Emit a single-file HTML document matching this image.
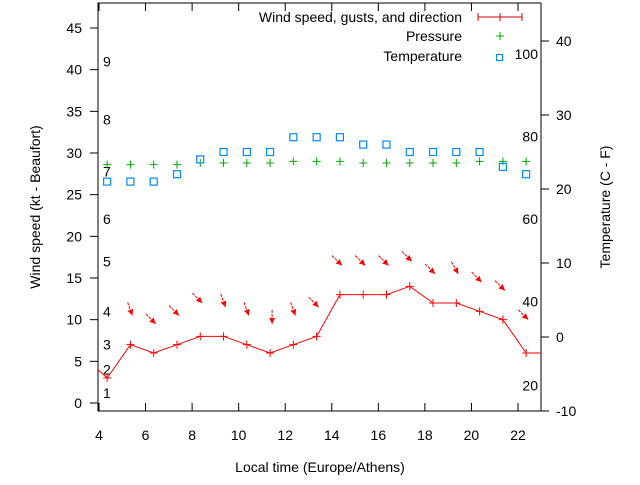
<!DOCTYPE html>
<html><head><meta charset="utf-8"><style>
body{margin:0;background:#fff;}
svg{font-family:"Liberation Sans",sans-serif;font-size:14px;}
</style></head><body>
<svg id="c" width="640" height="480" xmlns="http://www.w3.org/2000/svg"></svg>
<script>
const hours=[4.35,5.35,6.35,7.35,8.35,9.35,10.35,11.35,12.35,13.35,14.35,15.35,16.35,17.35,18.35,19.35,20.35,21.35,22.35];
const wind=[3,7,6,7,8,8,7,6,7,8,13,13,13,14,12,12,11,10,6];
const gusts=[null,10.5,9.5,10.5,12,11.5,10.5,9.5,10.5,11.5,16.5,16.5,16.5,17,15.5,15.5,14.5,13.5,10];
const dirs=[null,340,315,315,315,340,340,0,340,315,315,315,315,315,315,330,315,315,315];
const pressure=[28.6,28.6,28.6,28.6,28.8,28.8,28.8,28.8,29,29,29,28.8,28.8,28.8,28.8,28.8,29,29,29];
const temps=[21,21,21,22,24,25,25,25,27,27,27,26,26,25,25,25,25,23,22];
const xTicks=[4,6,8,10,12,14,16,18,20,22];
const yTicks=[0,5,10,15,20,25,30,35,40,45];
const y2Ticks=[-10,0,10,20,30,40];
const beaufort=[["1",1.2],["2",4],["3",7],["4",11],["5",17],["6",22.1],["7",27.8],["8",34],["9",41]];
const fahr=[["20",2.1],["40",12.2],["60",22.1],["80",32],["100",41.9]];
const L=98,R=541,T=3,B=411;
const X=v=>99+(v-4)*(419/18);
const Y=v=>403-v*8.333;
const Y2=v=>337-v*7.4;
const s=document.getElementById('c');
const NS="http://www.w3.org/2000/svg";
function mk(t,a,p){const e=document.createElementNS(NS,t);for(const k in a)e.setAttribute(k,a[k]);(p||s).appendChild(e);return e;}
function txt(x,y,str,anchor){const e=mk('text',{x:x,y:y,'text-anchor':anchor||'start',fill:'#000'});e.textContent=str;return e;}
const fr=mk('rect',{x:L,y:T,width:R-L,height:B-T,fill:'none',stroke:'#000','stroke-width':1});

xTicks.forEach(v=>{mk('line',{x1:X(v),y1:B,x2:X(v),y2:B-8,stroke:'#000'});mk('line',{x1:X(v),y1:T,x2:X(v),y2:T+8,stroke:'#000'});
 const t=txt(X(v),440,String(v),'middle');});
yTicks.forEach(v=>{mk('line',{x1:L-8,y1:Y(v),x2:L,y2:Y(v),stroke:'#000'});
 const t=txt(82,Y(v)+5,String(v),'end');});
y2Ticks.forEach(v=>{mk('line',{x1:R,y1:Y2(v),x2:R+8,y2:Y2(v),stroke:'#000'});
 const t=txt(556,Y2(v)+5,String(v),'start');});
beaufort.forEach(b=>{const t=txt(103,Y(b[1])+5,b[0]);});
fahr.forEach(b=>{const t=txt(538,Y(b[1])+5,b[0],'end');});
let t=txt(320,472,'Local time (Europe/Athens)','middle');
t=txt(0,0,'Wind speed (kt - Beaufort)','middle');t.setAttribute('transform','translate(40,207) rotate(-90)');
t=txt(0,0,'Temperature (C - F)','middle');t.setAttribute('transform','translate(610,207) rotate(-90)');
let d='M'+L+' '+Y(4)+' '+hours.map((h,i)=>'L'+X(h)+' '+Y(wind[i])).join(' ')+' L'+R+' '+Y(wind[wind.length-1]);
const wl=mk('path',{d:d,fill:'none',stroke:'#f00','stroke-width':1});

hours.forEach((h,i)=>{const g=mk('path',{d:`M${X(h)-4} ${Y(wind[i])}h8M${X(h)} ${Y(wind[i])-4}v8`,stroke:'#f00'});
 });
hours.forEach((h,i)=>{if(gusts[i]===null)return;const a=dirs[i]*Math.PI/180;
 const ex=X(h)+2,ey=Y(gusts[i]);
 const ux=-Math.sin(a),uy=Math.cos(a);
 const x0=ex-ux*14,y0=ey-uy*14;
 const g=mk('g',{});
 mk('line',{x1:x0,y1:y0,x2:ex,y2:ey,stroke:'#f00','stroke-dasharray':'3,1'},g);
 const px=-uy,py=ux;
 mk('polygon',{points:`${ex},${ey} ${ex-ux*6+px*3},${ey-uy*6+py*3} ${ex-ux*6-px*3},${ey-uy*6-py*3}`,fill:'#f00'},g);});
hours.forEach((h,i)=>{const g=mk('path',{d:`M${X(h)-4} ${Y(pressure[i])}h8M${X(h)} ${Y(pressure[i])-4}v8`,stroke:'#0a0'});
 });
hours.forEach((h,i)=>{const r=mk('rect',{x:X(h)-3.5,y:Y2(temps[i])-3.5,width:7,height:7,fill:'none',stroke:'#08f','stroke-width':1.2});
 });
const lg=mk('g',{});
[['Wind speed, gusts, and direction',22],['Pressure',41],['Temperature',61]].forEach(e=>{const q=txt(462,e[1],e[0],'end');lg.appendChild(q);});
mk('path',{d:'M478 17h44M478 13v8M500 13v8M522 13v8',stroke:'#c00'},lg);
mk('path',{d:'M496 36h8M500 32v8',stroke:'#0a0'},lg);
mk('rect',{x:496.5,y:54.5,width:6,height:6,fill:'none',stroke:'#08f','stroke-width':1.2},lg);
</script>
</body></html>
